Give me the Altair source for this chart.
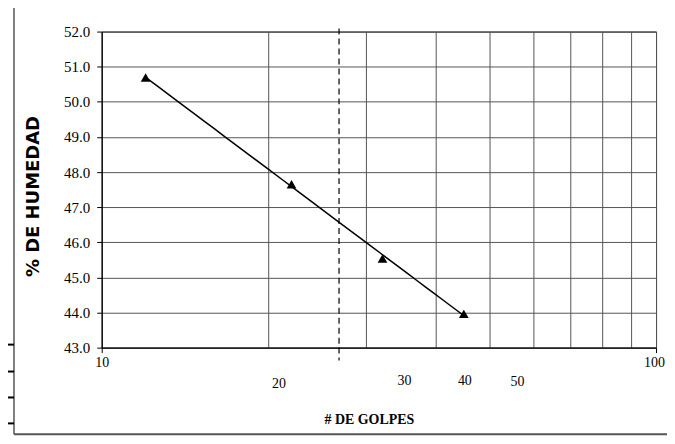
import altair as alt
import pandas as pd

# data
golpes = [12.0, 22.0, 32.1, 45.0]
humedad = [50.69, 47.65, 45.54, 43.96]
dashed_x = [26.8]
x_ticks = [10, 20, 30, 40, 50, 60, 70, 80, 90, 100]
x_labelled = [10, 20, 30, 40, 50, 100]
y_ticks = [43, 44, 45, 46, 47, 48, 49, 50, 51, 52]

df = pd.DataFrame({"golpes": golpes, "humedad": humedad})
dash_df = pd.DataFrame({"x": dashed_x})
one = pd.DataFrame({"k": [0]})

W, H = 556, 317
SERIF = "Liberation Serif"

xscale = alt.Scale(type="log", domain=[10, 100], nice=False)
yscale = alt.Scale(domain=[43, 52], nice=False, zero=False)

label_list = "[" + ",".join(str(v) for v in x_labelled) + "]"

xaxis = alt.Axis(
    values=x_ticks,
    grid=True,
    gridColor="#555",
    gridWidth=1,
    domainColor="black",
    domainWidth=1,
    tickColor="black",
    tickSize=5,
    tickOpacity={"expr": "datum.value == 10 || datum.value == 100 ? 1 : 0"},
    labelExpr=f"indexof({label_list}, datum.value) >= 0 ? format(datum.value, 'd') : ''",
    labelFont=SERIF,
    labelFontSize=14,
    labelColor="black",
    labelBaseline="middle",
    labelOverlap=False,
    labelFlush=False,
    labelOffset={"expr": "datum.value == 20 ? 10 : datum.value == 30 ? 38 : datum.value == 40 ? 29 : datum.value == 50 ? 28 : datum.value == 100 ? -2 : 0"},
    labelPadding={"expr": "datum.value == 20 ? 31 : datum.value == 30 ? 28 : datum.value == 40 ? 28 : datum.value == 50 ? 29 : 10"},
    title="# DE GOLPES",
    titleFont=SERIF,
    titleFontSize=14,
    titleFontWeight="bold",
    titleColor="black",
    titleX=268,
    titleY=72,
    titleAlign="center",
    titleBaseline="middle",
)

yaxis = alt.Axis(
    values=y_ticks,
    format=".1f",
    grid=True,
    gridColor="#555",
    gridWidth=1,
    domainColor="black",
    domainWidth=1,
    tickColor="black",
    tickSize=5,
    labelFont=SERIF,
    labelFontSize=15,
    labelColor="black",
    labelPadding=7,
    labelOverlap=False,
    labelFlush=False,
    title="% DE HUMEDAD",
    titleFont="DejaVu Sans",
    titleFontSize=18,
    titleFontWeight="bold",
    titleColor="black",
    titleAngle=270,
    titleX=-68,
    titleY=165,
    titleAlign="center",
    titleBaseline="middle",
)

base = alt.Chart(df)

points = base.mark_point(shape="triangle-up", filled=True, color="black", size=95, opacity=1).encode(
    x=alt.X("golpes:Q", scale=xscale, axis=xaxis),
    y=alt.Y("humedad:Q", scale=yscale, axis=yaxis),
)

trend = base.transform_regression("golpes", "humedad", method="log").mark_line(
    color="black", strokeWidth=1.5
).encode(
    x=alt.X("golpes:Q", scale=xscale, axis=xaxis),
    y=alt.Y("humedad:Q", scale=yscale, axis=yaxis),
)

dashed = alt.Chart(dash_df).mark_rule(color="black", strokeWidth=1.2, strokeDash=[6, 4]).encode(
    x=alt.X("x:Q", scale=xscale, axis=xaxis),
    y=alt.value(-3),
    y2=alt.value(330),
)

# outer frame decorations
frame_left = alt.Chart(one).mark_rule(color="#555", strokeWidth=1.5).encode(
    x=alt.value(-88), y=alt.value(-31), y2=alt.value(404)
)
frame_bottom = alt.Chart(one).mark_rule(color="#555", strokeWidth=2).encode(
    x=alt.value(-88), x2=alt.value(573), y=alt.value(404)
)
stubs = [
    alt.Chart(one).mark_rule(color="black", strokeWidth=2).encode(
        x=alt.value(-102), x2=alt.value(-88), y=alt.value(yy)
    )
    for yy in (314, 341, 367, 393)
]

chart = alt.layer(dashed, trend, points, frame_left, frame_bottom, *stubs).properties(
    width=W,
    height=H,
    autosize=alt.AutoSizeParams(type="none"),
    padding={"left": 94, "top": 23, "right": 11, "bottom": 88},
    background="white",
).configure_view(stroke="black", strokeWidth=1)

chart.save("out.html", embed_options={"renderer": "svg", "actions": False})
